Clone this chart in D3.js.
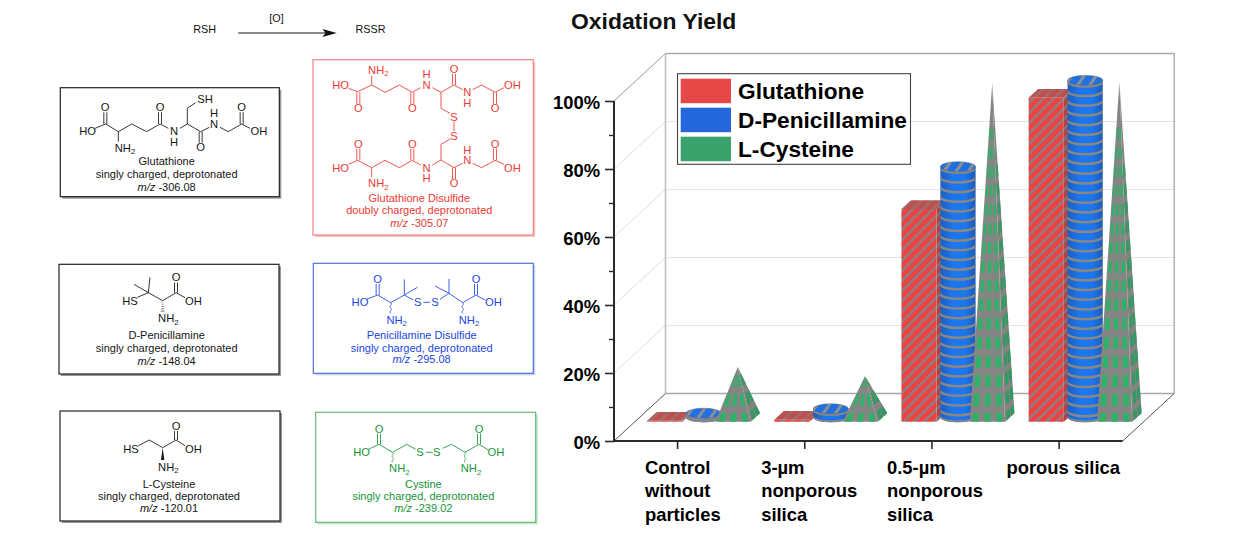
<!DOCTYPE html>
<html>
<head>
<meta charset="utf-8">
<script src="https://cdn.jsdelivr.net/npm/d3@7"></script>
<style>
html,body{margin:0;padding:0;background:#fff;}
svg{display:block;}
text{font-family:"Liberation Sans",Arial,sans-serif;}
</style>
</head>
<body>
<svg id="c" width="1242" height="539"></svg>
<script>
// ---------- data ----------
const categories = ["Control without particles", "3-µm nonporous silica", "0.5-µm nonporous silica", "porous silica"];
const categoryLines = [["Control","without","particles"],["3-µm","nonporous","silica"],["0.5-µm","nonporous","silica"],["porous silica"]];
const seriesNames = ["Glutathione","D-Penicillamine","L-Cysteine"];
const glutathione = [0.3, 0.6, 62.6, 95.3];
const penicillamine = [1.2, 2.5, 73.7, 99.1];
const cysteine = [14.8, 12.1, 98.3, 98.6];
const yTicksMajor = [0,20,40,60,80,100];
const yTicksMinor = [10,30,50,70,90];

const svg = d3.select("#c");
const defs = svg.append("defs");

// ---------- patterns ----------
function stripes(id, base, line, period, thick, angle){
  const p = defs.append("pattern").attr("id",id).attr("patternUnits","userSpaceOnUse")
    .attr("width",period).attr("height",period).attr("patternTransform",`rotate(${angle})`);
  p.append("rect").attr("width",period).attr("height",period).attr("fill",base);
  p.append("rect").attr("width",thick).attr("height",period).attr("fill",line);
}
stripes("redFront","#ee4242","#8e8080",7.2,2.4,45);
stripes("redSide","#b04444","#807474",7.2,2.6,45);
stripes("redTop","#bd4f4f","#a06a6a",7.2,2.6,45);
stripes("blueTop","#2070e0","#8a8f98",10,3,35);
const cg = defs.append("linearGradient").attr("id","cyl");
[[0,"#1c5fc0"],[0.35,"#1c76ee"],[0.7,"#1c76ee"],[1,"#1c5cb8"]].forEach(s=>cg.append("stop").attr("offset",s[0]).attr("stop-color",s[1]));

// ---------- scales ----------
const x = d3.scaleBand().domain(categories).range([614,1122.7]);
const y = d3.scaleLinear().domain([0,100]).range([441,101]);
const wallDX = 51.5, wallDY = 47.5;
const D0 = 0.406, DD = 0.184;              // bar front depth, bar depth
const sub = d3.scalePoint().domain(seriesNames).range([-51.4,17]);
const barW = 35.2;
const proj = (px,v,d)=>[px + d*wallDX, y(v) - d*wallDY];
const line = d3.line();
const gWall = svg.append("g");

// ---------- walls ----------
const xL = x.range()[0], xR = x.range()[1];
yTicksMajor.slice(1).forEach(t=>{
  const a = proj(xL,t,0), b = proj(xL,t,1), c = proj(xR,t,1);
  const col = t===100 ? "#aaa" : "#e4e4e4";
  gWall.append("path").attr("d",line([a,b])).attr("stroke",t===100?"#999":"#dedede").attr("fill","none");
  gWall.append("path").attr("d",line([b,c])).attr("stroke",col).attr("stroke-width",t===100?1.5:1.2).attr("fill","none");
});
gWall.append("path").attr("d",line([proj(xL,0,1),proj(xL,100,1)])).attr("stroke","#c2c2c2").attr("stroke-width",1.6).attr("fill","none");
gWall.append("path").attr("d",line([proj(xR,0,1),proj(xR,100,1)])).attr("stroke","#aaa").attr("stroke-width",1.4).attr("fill","none");
gWall.append("path").attr("d",line([proj(xL,0,1),proj(xR,0,1)])).attr("stroke","#a8a8a8").attr("stroke-width",1.6).attr("fill","none");
gWall.append("path").attr("d",line([proj(xL,0,0),proj(xL,0,1)])).attr("stroke","#555").attr("fill","none");
gWall.append("path").attr("d",line([proj(xR,0,0),proj(xR,0,1)])).attr("stroke","#555").attr("fill","none");

// ---------- marks ----------
const gBars = svg.append("g");
const poly = pts=>line(pts)+"Z";

function drawBox(cat,v){
  const px = x(cat)+x.bandwidth()/2 + sub(seriesNames[0]);
  const f1 = proj(px,v,D0), f2 = proj(px+barW,v,D0), f3 = proj(px+barW,0,D0), f4 = proj(px,0,D0);
  const b1 = proj(px,v,D0+DD), b2 = proj(px+barW,v,D0+DD), b3 = proj(px+barW,0,D0+DD);
  gBars.append("path").attr("d",poly([f2,b2,b3,f3])).attr("fill","url(#redSide)");
  gBars.append("path").attr("d",poly([f1,b1,b2,f2])).attr("fill","url(#redTop)");
  gBars.append("path").attr("d",poly([f1,f2,f3,f4])).attr("fill","url(#redFront)");
}

let clipN = 0;
function drawCyl(cat,v){
  const px = x(cat)+x.bandwidth()/2 + sub(seriesNames[1]);
  const dM = D0+DD/2, rx = barW/2, ry = 5;
  const cTop = proj(px+rx,v,dM), cBot = proj(px+rx,0,dM);
  const side = `M${cTop[0]-rx},${cTop[1]}L${cBot[0]-rx},${cBot[1]}A${rx},${ry} 0 0 0 ${cBot[0]+rx},${cBot[1]}L${cTop[0]+rx},${cTop[1]}Z`;
  const id = "cy"+(clipN++);
  defs.append("clipPath").attr("id",id).append("path").attr("d",side);
  gBars.append("path").attr("d",side).attr("fill","url(#cyl)");
  const g = gBars.append("g").attr("clip-path",`url(#${id})`);
  const ring = yy=>g.append("path").attr("d",`M${cTop[0]-rx},${yy}A${rx},${ry} 0 0 0 ${cTop[0]+rx},${yy}`)
     .attr("fill","none").attr("stroke","#878787").attr("stroke-width",2.5);
  for(let yy=cTop[1]+1; yy<=cBot[1]+1; yy+=9.7) ring(yy);
  ring(cBot[1]-0.6);
  gBars.append("ellipse").attr("cx",cTop[0]).attr("cy",cTop[1]).attr("rx",rx).attr("ry",ry)
     .attr("fill","url(#blueTop)").attr("stroke","#5a6f8e").attr("stroke-width",.6);
}

function drawPyr(cat,v){
  const px = x(cat)+x.bandwidth()/2 + sub(seriesNames[2]);
  const L = proj(px,0,D0), R = proj(px+barW,0,D0), B = proj(px+barW,0,D0+DD);
  const A = proj(px+barW/2,v,D0+DD/2);
  const grey = "#858583";
  gBars.append("path").attr("d",poly([R,B,A])).attr("fill","#82847f");
  gBars.append("path").attr("d",poly([L,R,A])).attr("fill",grey);
  // green dashes that follow the faces of the pyramid
  const h = L[1]-A[1];
  const faceDots = (P,Q,cols,w,col)=>{
    const at = (t,u)=>{
      const l=[P[0]+t*(A[0]-P[0]),P[1]+t*(A[1]-P[1])], r=[Q[0]+t*(A[0]-Q[0]),Q[1]+t*(A[1]-Q[1])];
      return [l[0]+u*(r[0]-l[0]), l[1]+u*(r[1]-l[1])];
    };
    for(let k=0;;k++){
      const y0 = Math.max(0,-3.3+19*k), y1 = 8.7+19*k;
      if(y0>=h-6) break;
      const t0=y0/h, t1=Math.min(y1/h,1);
      cols.forEach(u=>{
        if((1-t0)*(Math.hypot(Q[0]-P[0],Q[1]-P[1]))*w<1.0) return;
        gBars.append("path").attr("d",poly([at(t0,u-w/2),at(t0,u+w/2),at(t1,u+w/2),at(t1,u-w/2)])).attr("fill",col);
      });
    }
  };
  faceDots(L,R,[0.16,0.5,0.84],0.17,"#2db268");
  faceDots(R,B,[0.35,0.8],0.34,"#2f9a62");
}

categories.forEach((c,i)=>{
  drawBox(c,glutathione[i]);
  drawCyl(c,penicillamine[i]);
  drawPyr(c,cysteine[i]);
});

// ---------- axes ----------
const gAx = svg.append("g");
const yAxis = d3.axisLeft(y).tickValues(yTicksMajor).tickSize(9).tickPadding(5).tickFormat(d=>d+"%");
const gY = gAx.append("g").attr("transform",`translate(${xL},0)`).call(yAxis);
gY.select(".domain").attr("stroke","#2a2a2a").attr("stroke-width",2).attr("d",`M0,${y(0)}V${y(100)}`);
gY.selectAll(".tick line").attr("stroke","#2a2a2a").attr("stroke-width",1.6);
gY.selectAll(".tick text").attr("font-family","Liberation Sans").attr("font-size",18.4).attr("font-weight","bold").attr("fill","#000").attr("dy","0.39em");
const yMin = d3.axisLeft(y).tickValues(yTicksMinor).tickSize(5).tickFormat("");
const gYm = gAx.append("g").attr("transform",`translate(${xL},0)`).call(yMin);
gYm.select(".domain").remove();
gYm.selectAll(".tick line").attr("stroke","#2a2a2a").attr("stroke-width",1.4);

const xAxis = d3.axisBottom(x).tickSize(8).tickFormat("");
const gX = gAx.append("g").attr("transform",`translate(0,${y(0)})`).call(xAxis);
gX.select(".domain").attr("stroke","#2a2a2a").attr("stroke-width",2).attr("d",`M${xL},0H${xR}`);
gX.selectAll(".tick line").attr("stroke","#2a2a2a").attr("stroke-width",1.6);

const labelShift = [-32.6,-43.6,-45,-52.6];
categories.forEach((c,i)=>{
  const labelX = x(c)+x.bandwidth()/2 + labelShift[i];
  categoryLines[i].forEach((t,j)=>{
    svg.append("text").attr("x",labelX).attr("y",473.6+j*23.7).attr("font-size",18.4).attr("font-weight","bold").attr("fill","#000").text(t);
  });
});

// ---------- title ----------
svg.append("text").attr("x",571).attr("y",28.5).attr("font-size",22.9).attr("font-weight","bold").attr("fill","#111").text("Oxidation Yield");

// ---------- legend ----------
const lg = svg.append("g");
lg.append("rect").attr("x",677.5).attr("y",73.7).attr("width",233).attr("height",90.6).attr("fill","#fff").attr("stroke","#444").attr("stroke-width",1.1);
const legendColors = ["#e64848","#2468dc","#3aa26c"];
const legendY = d3.scalePoint().domain(seriesNames).range([78.7,136.7]);
seriesNames.forEach((s,i)=>{
  lg.append("rect").attr("x",680.7).attr("y",legendY(s)).attr("width",50.3).attr("height",24.5).attr("fill",legendColors[i]);
  lg.append("text").attr("x",738).attr("y",legendY(s)+20).attr("font-size",22.7).attr("font-weight","bold").attr("fill","#000").text(s);
});

// ---------- reaction scheme ----------
const rs = svg.append("g").attr("font-size",10.8).attr("fill","#111");
rs.append("text").attr("x",193.3).attr("y",33.3).text("RSH");
rs.append("text").attr("x",355.5).attr("y",33.3).text("RSSR");
rs.append("text").attr("x",269.3).attr("y",22.3).text("[O]");
rs.append("path").attr("d","M238.3,33H326").attr("stroke","#111");
rs.append("path").attr("d","M322.5,29L336.7,33L322.5,37L325.5,33Z").attr("fill","#111");

// ---------- molecule panels ----------
function panel(o){
  const g = svg.append("g");
  const s = 1/3, X = v=>o.ox+v*s, Y = v=>o.oy+v*s;
  g.append("rect").attr("x",o.box[0]+2).attr("y",o.box[1]+2).attr("width",o.box[2]-o.box[0]).attr("height",o.box[3]-o.box[1]).attr("fill",o.shadow);
  g.append("rect").attr("x",o.box[0]).attr("y",o.box[1]).attr("width",o.box[2]-o.box[0]).attr("height",o.box[3]-o.box[1]).attr("fill","#fff").attr("stroke",o.border).attr("stroke-width",1.2);
  (o.bonds||[]).forEach(b=>{
    for(let i=0;i+3<b.length;i+=2)
      g.append("line").attr("x1",X(b[i])).attr("y1",Y(b[i+1])).attr("x2",X(b[i+2])).attr("y2",Y(b[i+3])).attr("stroke",o.color).attr("stroke-width",.85);
  });
  (o.dbl||[]).forEach(d=>{
    [-4.5,4.5].forEach(k=>g.append("line").attr("x1",X(d[0]+k)).attr("y1",Y(d[1])).attr("x2",X(d[0]+k)).attr("y2",Y(d[2])).attr("stroke",o.color).attr("stroke-width",.85));
  });
  (o.wavy||[]).forEach(w=>{
    let p=`M${X(w[0])},${Y(w[1])}`; const n=4, st=(w[2]-w[1])/n;
    for(let i=0;i<n;i++){ const yy=w[1]+st*(i+.5), off=(i%2?-5:5); p+=`Q${X(w[0]+off)},${Y(yy)} ${X(w[0])},${Y(w[1]+st*(i+1))}`; }
    g.append("path").attr("d",p).attr("fill","none").attr("stroke",o.color).attr("stroke-width",.7);
  });
  (o.hash||[]).forEach(w=>{
    const n=5;
    for(let i=0;i<n;i++){ const yy=w[1]+(w[2]-w[1])*(i+.5)/n, hw=1+1.2*i;
      g.append("line").attr("x1",X(w[0]-hw)).attr("x2",X(w[0]+hw)).attr("y1",Y(yy)).attr("y2",Y(yy)).attr("stroke",o.color).attr("stroke-width",.6);}
  });
  (o.wedge||[]).forEach(w=>{
    g.append("path").attr("d",`M${X(w[0])},${Y(w[1])}L${X(w[0]-5)},${Y(w[2])}L${X(w[0]+5)},${Y(w[2])}Z`).attr("fill",o.color);
  });
  (o.atoms||[]).forEach(a=>{
    const t = g.append("text").attr("x",X(a[1])).attr("y",Y(a[2])+3.9).attr("text-anchor","middle").attr("font-size",11.2).attr("fill",o.color);
    if(a[0]==="NH2"){ t.append("tspan").text("NH"); t.append("tspan").attr("dy",2.5).attr("font-size",7.8).text("2"); }
    else t.text(a[0]);
  });
  o.caption.forEach((c,i)=>{
    const t = g.append("text").attr("x",X(o.cap[0])).attr("y",Y(o.cap[1+i])).attr("text-anchor","middle").attr("font-size",11).attr("fill",o.color);
    if(i===2){ t.append("tspan").attr("font-style","italic").text("m/z"); t.append("tspan").text(" "+c); }
    else t.text(c);
  });
}

panel({ox:50,oy:50,box:[60.3,87.7,279.3,196.7],border:"#222",shadow:"#999",color:"#151515",
  bonds:[[135,235,167,222,205,245,245,222,290,245,330,222,355,235],[390,235,412,222,412,175,437,158],[412,222,452,245,478,232],[510,232,535,245,575,222,600,235],[205,245,205,275]],
  dbl:[[166,222,187],[330,222,187],[452,245,278],[575,222,187]],
  atoms:[["HO",113,243],["O",165,172],["NH2",225,293],["O",330,172],["N",372,243],["H",372,275],["SH",465,147],["O",452,290],["H",492,190],["N",492,222],["O",575,172],["OH",627,243]],
  cap:[350,345,385,422],caption:["Glutathione","singly charged, deprotonated","-306.08"]});

panel({ox:305,oy:55,box:[313,59.7,533.3,235],border:"#f08080",shadow:"#f9c4c4",color:"#ea3a32",
  bonds:[[130,100,158,110,200,90,240,112,283,90,322,112,347,98],[382,98,408,112,408,160,435,175],[408,112,447,90,473,104],[503,104,530,90,570,112,597,98],[200,90,200,62],
         [447,200,447,228],[435,252,408,268,408,315,382,330],[347,330,322,316,283,338,240,316,200,338,158,316,130,328],[408,315,447,338,473,325],[503,325,530,338,570,316,597,328],[200,338,200,366]],
  dbl:[[160,112,147],[322,112,147],[447,90,57],[570,112,147],[160,316,281],[322,316,281],[447,338,372],[570,316,281]],
  atoms:[["HO",107,90],["O",160,160],["NH2",220,45],["O",322,160],["H",365,58],["N",365,90],["O",447,42],["N",487,112],["H",487,144],["O",570,160],["OH",622,90],["S",447,185],["S",447,243],
         ["HO",107,338],["O",160,268],["NH2",220,385],["O",322,268],["N",365,338],["H",365,370],["O",447,385],["H",487,285],["N",487,316],["O",570,268],["OH",622,338]],
  cap:[343,440,478,515],caption:["Glutathione Disulfide","doubly charged, deprotonated","-305.07"]});

panel({ox:50,oy:260,box:[59,264.3,279,374],border:"#222",shadow:"#999",color:"#151515",
  bonds:[[262,112,295,98,338,122,378,98,405,113],[295,98,252,73],[295,98,300,52]],
  dbl:[[378,98,68]],hash:[[338,122,157]],
  atoms:[["HS",240,123],["NH2",355,175],["O",378,52],["OH",430,123]],
  cap:[350,238,277,314],caption:["D-Penicillamine","singly charged, deprotonated","-148.04"]});

panel({ox:50,oy:260,box:[313.3,263.3,533.3,373.3],border:"#5070e0",shadow:"#c8d4f7",color:"#2145e2",
  bonds:[[950,118,983,105,1022,128,1063,105,1090,120],[1063,105,1063,58],[1063,105,1102,82],[1120,127,1140,127],[1170,118,1197,100,1238,128,1278,105,1305,120],[1197,100,1155,78],[1197,100,1197,57]],
  dbl:[[983,105,72],[1278,105,72]],wavy:[[1022,128,160],[1238,128,160]],
  atoms:[["HO",930,127],["O",983,58],["NH2",1040,180],["S",1103,127],["S",1155,127],["NH2",1257,180],["O",1278,58],["OH",1330,127]],
  cap:[1115,237,275,310],caption:["Penicillamine Disulfide","singly charged, deprotonated","-295.08"]});

panel({ox:50,oy:405,box:[60,411,280,521],border:"#222",shadow:"#999",color:"#151515",
  bonds:[[265,122,298,105,338,128,378,105,405,122]],
  dbl:[[378,105,78]],wedge:[[338,128,165]],
  atoms:[["HS",243,133],["NH2",355,185],["O",378,62],["OH",430,133]],
  cap:[357,248,285,322],caption:["L-Cysteine","singly charged, deprotonated","-120.01"]});

panel({ox:50,oy:405,box:[315.7,412.3,535.7,522.3],border:"#68b878",shadow:"#bfe6c6",color:"#17943a",
  bonds:[[955,133,987,118,1028,142,1070,118,1097,133],[1128,142,1148,142],[1178,130,1205,118,1245,142,1287,118,1315,135]],
  dbl:[[987,118,86],[1287,118,86]],wavy:[[1028,142,172],[1245,142,172]],
  atoms:[["HO",935,142],["O",987,72],["NH2",1048,190],["S",1110,142],["S",1160,142],["NH2",1263,190],["O",1287,72],["OH",1338,142]],
  cap:[1120,248,285,322],caption:["Cystine","singly charged, deprotonated","-239.02"]});
</script>
</body>
</html>
